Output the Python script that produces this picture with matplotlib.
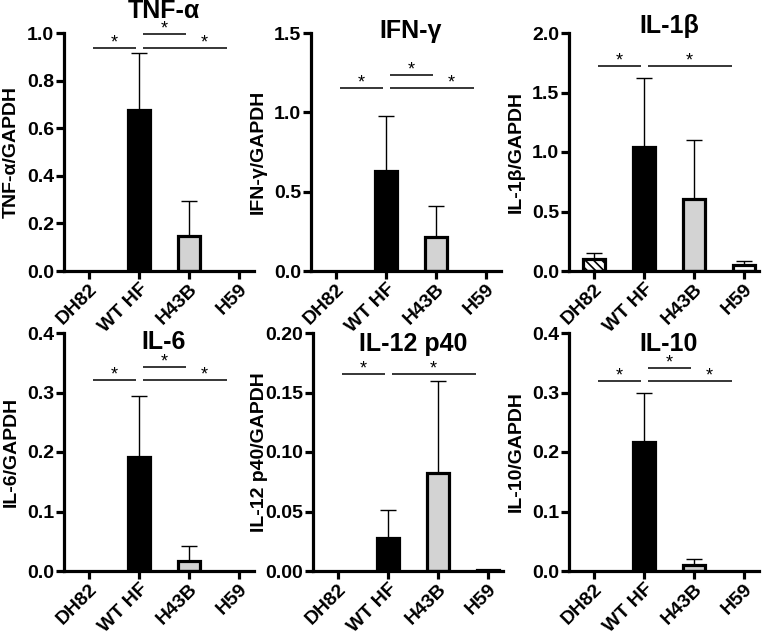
"""Cytokine mRNA expression panels (relative to GAPDH), 2x3 bar charts."""

import matplotlib
matplotlib.use("Agg")
import matplotlib.pyplot as plt
import matplotlib.transforms as mtransforms
import numpy as np

# Data
groups = ["DH82", "WT HF", "H43B", "H59"]

titles = ["TNF-α", "IFN-γ", "IL-1β", "IL-6", "IL-12 p40", "IL-10"]
ylabels = ["TNF-α/GAPDH", "IFN-γ/GAPDH", "IL-1β/GAPDH",
           "IL-6/GAPDH", "IL-12 p40/GAPDH", "IL-10/GAPDH"]

tnf_mean = [0.0, 0.676, 0.145, 0.0]
tnf_sd = [0.0, 0.241, 0.151, 0.0]
ifn_mean = [0.0, 0.630, 0.216, 0.0]
ifn_sd = [0.0, 0.349, 0.192, 0.0]
il1b_mean = [0.098, 1.046, 0.603, 0.048]
il1b_sd = [0.056, 0.572, 0.497, 0.033]
il6_mean = [0.0, 0.192, 0.016, 0.0]
il6_sd = [0.0, 0.102, 0.026, 0.0]
il12_mean = [0.0, 0.0278, 0.082, 0.0005]
il12_sd = [0.0, 0.0236, 0.078, 0.0007]
il10_mean = [0.0, 0.2176, 0.0101, 0.0]
il10_sd = [0.0, 0.0814, 0.0106, 0.0]

y_max = [1.0, 1.5, 2.0, 0.4, 0.20, 0.4]
y_step = [0.2, 0.5, 0.5, 0.1, 0.05, 0.1]
y_fmt = ["{:.1f}", "{:.1f}", "{:.1f}", "{:.1f}", "{:.2f}", "{:.1f}"]

# significance brackets: (group i, group j, height)
tnf_sig = [(0, 1, 0.939), (1, 2, 0.996), (1, 3, 0.939)]
ifn_sig = [(0, 1, 1.156), (1, 2, 1.235), (1, 3, 1.156)]
il1b_sig = [(0, 1, 1.722), (1, 3, 1.722)]
il6_sig = [(0, 1, 0.321), (1, 2, 0.343), (1, 3, 0.321)]
il12_sig = [(0, 1, 0.1655), (1, 3, 0.1655)]
il10_sig = [(0, 1, 0.319), (1, 2, 0.3416), (1, 3, 0.319)]

# Style
FACE = ["white", "black", "#D3D3D3", "white"]
HATCH = ["\\\\\\\\", None, None, None]
FONT = ["Liberation Sans", "DejaVu Sans"]
LW = 2.3

plt.rcParams.update({
    "font.family": FONT,
    "font.weight": "bold",
    "hatch.linewidth": 1.2,
    "axes.linewidth": LW,
})

means = [tnf_mean, ifn_mean, il1b_mean, il6_mean, il12_mean, il10_mean]
sds = [tnf_sd, ifn_sd, il1b_sd, il6_sd, il12_sd, il10_sd]
sigs = [tnf_sig, ifn_sig, il1b_sig, il6_sig, il12_sig, il10_sig]

W, H = 765, 636
lefts = [64, 311, 569, 64, 313, 569]
tops = [33, 33, 33, 333, 333, 333]
ax_w, ax_h = 190, 238
title_y = [1.063, 0.979, 1.0, 0.933, 0.924, 0.924]

fig = plt.figure(figsize=(W / 100, H / 100), dpi=100)

for k in range(6):
    ax = fig.add_axes([lefts[k] / W, 1 - (tops[k] + ax_h) / H, ax_w / W, ax_h / H])
    x = np.arange(len(groups))
    m = np.array(means[k])
    s = np.array(sds[k])

    ax.errorbar(x, m, yerr=[np.zeros_like(s), s], fmt="none", ecolor="black",
                elinewidth=1.0, capsize=5.5, capthick=1.0, zorder=1)
    for i in range(len(groups)):
        if m[i] <= 0:
            continue
        ax.bar(x[i], m[i], width=0.45, color=FACE[i], edgecolor="black",
               linewidth=LW, hatch=HATCH[i], zorder=2)

    # significance lines and stars
    has_12 = any(c[0] == 1 and c[1] == 2 for c in sigs[k])
    for i, j, h in sigs[k]:
        x0 = i + 0.07
        x1 = j - 0.07 if j - i == 1 else j - 0.24
        ax.plot([x0, x1], [h, h], color="black", lw=1.1, clip_on=False,
                solid_capstyle="butt")
        xs = 2.3 if (j - i == 2 and has_12) else (x0 + x1) / 2
        ax.annotate("*", (xs, h), xytext=(0, -2.5), textcoords="offset points",
                    ha="center", va="bottom", fontsize=13, fontweight="normal",
                    annotation_clip=False)

    ax.set_xlim(-0.5, 3.3)
    ax.set_ylim(0, y_max[k])
    ticks = np.arange(0, y_max[k] + y_step[k] / 2, y_step[k])
    ax.set_yticks(ticks)
    ax.set_yticklabels([y_fmt[k].format(t) for t in ticks], fontsize=14,
                       fontweight="bold")
    ax.set_xticks(x)
    ax.set_xticklabels(groups, rotation=45, ha="right", rotation_mode="anchor",
                       fontsize=14, fontweight="bold")
    ax.tick_params(axis="both", length=5.5, width=LW, pad=1.5)
    ax.spines["top"].set_visible(False)
    ax.spines["right"].set_visible(False)

    ax.set_ylabel(ylabels[k], fontsize=14, fontweight="bold")
    ax.yaxis.set_label_coords(-0.235, 0.5)

    trans = mtransforms.blended_transform_factory(ax.transData, ax.transAxes)
    ax.text(1.5, title_y[k], titles[k], transform=trans, ha="center",
            va="baseline", fontsize=18, fontweight="bold", clip_on=False)

fig.savefig("out.png", dpi=100)
